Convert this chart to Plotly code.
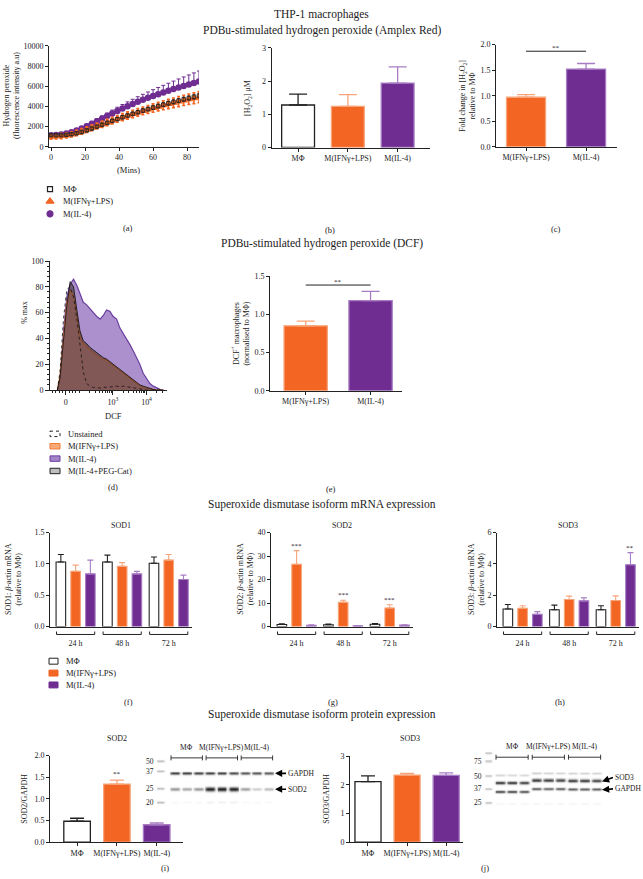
import numpy as np
import plotly.graph_objects as go

W, H = 643, 879
FONT = "Liberation Serif"
INK = "#222222"
ORANGE = "#F26522"
ORANGE_L = "#F7A47A"
PURPLE = "#6F2C91"
PURPLE_L = "#A87CC4"

# ---------------- data ----------------
groups3 = ["MΦ", "M(IFNγ+LPS)", "M(IL-4)"]
groups2 = ["M(IFNγ+LPS)", "M(IL-4)"]

# (a) Amplex Red time course
time_min = [0, 3, 6, 9, 12, 15, 18, 21, 24, 27, 30, 33, 36, 39, 42, 45, 48, 51, 54, 57,
            60, 63, 66, 69, 72, 75, 78, 81, 84, 87]
amplex_il4 = [1150, 1180, 1230, 1320, 1450, 1620, 1820, 2040, 2280, 2530, 2790, 3050, 3310, 3560, 3800,
              4030, 4250, 4460, 4660, 4850, 5040, 5220, 5390, 5560, 5720, 5880, 6030, 6180, 6330, 6470]
amplex_il4_err = [150, 150, 150, 160, 170, 180, 200, 220, 240, 260, 280, 300, 330, 360, 390,
                  420, 460, 500, 540, 580, 620, 660, 700, 740, 790, 840, 890, 940, 990, 1040]
amplex_ifn = [1000, 1020, 1060, 1130, 1230, 1370, 1530, 1700, 1880, 2060, 2240, 2420, 2600, 2770, 2940,
              3100, 3260, 3410, 3560, 3700, 3840, 3980, 4110, 4240, 4360, 4480, 4600, 4710, 4820, 4920]
amplex_ifn_err = [250, 250, 250, 250, 260, 260, 270, 280, 290, 300, 310, 320, 330, 340, 350,
                  360, 370, 380, 390, 400, 410, 420, 440, 460, 480, 500, 510, 520, 540, 550]
amplex_mphi = [1150, 1150, 1160, 1190, 1250, 1340, 1470, 1630, 1810, 2000, 2190, 2380, 2570, 2750, 2930,
               3100, 3270, 3430, 3590, 3740, 3890, 4040, 4180, 4320, 4450, 4580, 4710, 4830, 4950, 5070]
amplex_mphi_err = [100, 100, 100, 100, 110, 110, 120, 120, 130, 130, 140, 140, 150, 150, 160,
                   160, 170, 170, 180, 180, 190, 190, 200, 200, 210, 210, 220, 220, 230, 230]

# (b) [H2O2] uM
h2o2_um = [1.28, 1.24, 1.94]
h2o2_um_err = [0.33, 0.35, 0.49]
# (c) fold change
h2o2_fold = [0.97, 1.52]
h2o2_fold_err = [0.05, 0.11]

# (d) DCF histograms (display position on biexponential axis, % max)
dcf_pos = [-0.25, -0.17, -0.07, 0.03, 0.13, 0.23, 0.33, 0.42, 0.52, 0.62, 0.72, 0.82, 0.92, 1.02,
           1.12, 1.21, 1.31, 1.41, 1.51, 1.61, 1.71, 1.81, 1.91, 2.01, 2.11, 2.20, 2.30, 2.40,
           2.50, 2.60, 2.70, 2.80, 2.90]
hist_il4 = [0, 8, 45, 72, 82, 86, 81, 74, 68, 66, 63, 60, 57, 55, 58, 62, 61, 57, 55, 48, 44, 40,
            35, 30, 25, 20, 13, 9, 5, 3, 1.5, 0.5, 0]
hist_ifn = [0, 12, 40, 68, 77, 74, 57, 42, 36, 34, 31, 29, 27, 25, 24, 23, 21, 19, 17, 15, 13, 11,
            9, 7, 5, 3.5, 2, 1.5, 0.8, 0.3, 0, 0, 0]
hist_peg = [0, 10, 38, 66, 84, 80, 62, 46, 38, 36, 33, 31, 29, 27, 25, 24, 22, 20, 18, 16, 14, 12,
            10, 8, 6, 4, 3, 2, 1, 0.5, 0, 0, 0]
hist_unst = [0, 15, 55, 78, 80, 72, 55, 35, 14, 5, 3, 2, 1.5, 1.5, 2, 2, 2.5, 2.5, 3, 2.5, 3, 2.5,
             2, 1.5, 1, 0.5, 0, 0, 0, 0, 0, 0, 0]
dcf_tickvals = [0, 1.4, 2.4]
dcf_ticktext = ["0", "10<sup>3</sup>", "10<sup>4</sup>"]

# (e) DCF+ macrophages
dcf_pos_frac = [0.85, 1.18]
dcf_pos_frac_err = [0.06, 0.12]

# (f)-(h) SOD mRNA
sod_times = ["24 h", "48 h", "72 h"]
sod1 = {"MΦ": ([1.03, 1.03, 1.01], [0.12, 0.11, 0.10]),
        "M(IFNγ+LPS)": ([0.88, 0.96, 1.06], [0.10, 0.06, 0.09]),
        "M(IL-4)": ([0.84, 0.84, 0.75], [0.22, 0.04, 0.07])}
sod2 = {"MΦ": ([0.9, 0.8, 1.0], [0.3, 0.3, 0.3]),
        "M(IFNγ+LPS)": ([26.5, 10.3, 7.9], [5.8, 0.9, 1.4]),
        "M(IL-4)": ([0.5, 0.3, 0.6], [0.2, 0.1, 0.2])}
sod3 = {"MΦ": ([1.12, 1.07, 1.07], [0.29, 0.30, 0.26]),
        "M(IFNγ+LPS)": ([1.16, 1.73, 1.66], [0.17, 0.21, 0.30]),
        "M(IL-4)": ([0.78, 1.64, 3.94], [0.17, 0.19, 0.78])}

# (i),(j) protein
sod2_gapdh = [0.48, 1.34, 0.40]
sod2_gapdh_err = [0.07, 0.09, 0.04]
sod3_gapdh = [2.11, 2.34, 2.33]
sod3_gapdh_err = [0.20, 0.06, 0.09]

# western blot band intensities (9 lanes: 3 per group)
blot_i_gapdh = [0.85, 0.85, 0.85, 0.85, 0.85, 0.80, 0.75, 0.75, 0.72]
blot_i_sod2 = [0.45, 0.38, 0.45, 0.95, 0.95, 0.95, 0.42, 0.22, 0.30]
blot_i_ladder = ["50", "37", "25", "20"]
blot_j_sod3 = [0.90, 0.90, 0.85, 0.90, 0.88, 0.85, 0.90, 0.90, 0.85]
blot_j_gapdh = [0.85, 0.85, 0.80, 0.75, 0.70, 0.75, 0.75, 0.75, 0.75]
blot_j_upper = [0.22, 0.20, 0.20, 0.25, 0.22, 0.22, 0.22, 0.22, 0.22]
blot_j_ladder = ["", "75", "50", "37", "25"]

# ---------------- layout geometry (pixels) ----------------
P = {
    1: dict(x=(49, 199), y=(144.3, 42.3), xr=[-1.2, 87], yr=[0, 10000]),
    2: dict(x=(271.7, 430), y=(145, 44.3), xr=[-0.53, 2.65], yr=[0, 3]),
    3: dict(x=(496, 616.7), y=(144.3, 41), xr=[-0.5, 1.51], yr=[0, 2]),
    4: dict(x=(50, 166.7), y=(390, 259.7), xr=[-0.47, 3.0], yr=[0, 100]),
    5: dict(x=(270, 401.7), y=(390.7, 275), xr=[-0.55, 1.48], yr=[0, 1.5]),
    6: dict(x=(50, 192), y=(629, 534), xr=[-0.55, 2.5], yr=[0, 1.5]),
    7: dict(x=(271, 413), y=(629, 534), xr=[-0.55, 2.5], yr=[0, 40]),
    8: dict(x=(497, 639), y=(629, 534), xr=[-0.55, 2.5], yr=[0, 6]),
    9: dict(x=(50, 183), y=(846.7, 759.3), xr=[-0.68, 2.66], yr=[0, 2]),
    11: dict(x=(350, 463), y=(846.7, 760), xr=[-0.46, 2.43], yr=[0, 3]),
}
LANE_I0, LANE_I = 175, 11.7
LANE_J0, LANE_J = 500, 12.08
P[10] = dict(x=(155, 276), y=(812, 756), xr=[(155 - LANE_I0) / LANE_I, (276 - LANE_I0) / LANE_I], yr=[812, 756])
P[12] = dict(x=(478, 603), y=(812, 750), xr=[(478 - LANE_J0) / LANE_J, (603 - LANE_J0) / LANE_J], yr=[812, 750])


def PX(x):
    return x / W


def PY(y):
    return 1 - y / H


def cat2px(n, v):
    p = P[n]
    return p['x'][0] + (v - p['xr'][0]) / (p['xr'][1] - p['xr'][0]) * (p['x'][1] - p['x'][0])


def val2py(n, v):
    p = P[n]
    return p['y'][0] + (v - p['yr'][0]) / (p['yr'][1] - p['yr'][0]) * (p['y'][1] - p['y'][0])


layout = dict(width=W, height=H, margin=dict(l=0, r=0, t=0, b=0), paper_bgcolor='white',
              plot_bgcolor='rgba(0,0,0,0)', font=dict(family=FONT, size=8, color=INK),
              showlegend=False, barmode='group', bargap=0.05, bargroupgap=0.35)


def set_axes(n, xkw=None, ykw=None, visible=True):
    s = '' if n == 1 else str(n)
    p = P[n]
    base = dict(showline=True, linecolor=INK, linewidth=1, ticks='outside', ticklen=3, tickwidth=1,
                tickcolor=INK, showgrid=False, zeroline=False, fixedrange=True,
                tickfont=dict(family=FONT, size=8, color=INK))
    if not visible:
        base = dict(visible=False, showgrid=False, zeroline=False, fixedrange=True)
    xa = dict(base, domain=[PX(p['x'][0]), PX(p['x'][1])], range=p['xr'], anchor='y' + s)
    ya = dict(base, domain=[PY(p['y'][0]), PY(p['y'][1])], range=p['yr'], anchor='x' + s)
    xa.update(xkw or {})
    ya.update(ykw or {})
    layout['xaxis' + s] = xa
    layout['yaxis' + s] = ya


def cat(arr):
    return dict(type='category', categoryorder='array', categoryarray=arr, tickangle=0)


set_axes(1, dict(tickvals=[0, 20, 40, 60, 80]), dict(dtick=2000, tickformat='d'))
set_axes(2, cat(groups3), dict(dtick=1))
set_axes(3, cat(groups2), dict(dtick=0.5, tickformat='.1f'))
set_axes(4, dict(tickmode='array', tickvals=dcf_tickvals, ticktext=dcf_ticktext, ticklen=4,
                 minor=dict(tickmode='array', ticks='outside', ticklen=2, tickcolor=INK,
                            tickvals=[-0.4, -0.3, -0.2, -0.1, 0.1, 0.2, 0.3] +
                                     [0.4 + np.log10(k) for k in range(1, 10)] +
                                     [1.4 + np.log10(k) for k in range(2, 10)] +
                                     [2.4 + np.log10(k) for k in range(2, 5)])),
         dict(dtick=20, ticklen=4, minor=dict(dtick=4, ticks='outside', ticklen=2, tickcolor=INK)))
set_axes(5, cat(groups2), dict(dtick=0.5, tickformat='.1f'))
sodx = dict(cat(sod_times), ticks='', ticklabelstandoff=9)
set_axes(6, sodx, dict(dtick=0.5, tickformat='.1f'))
set_axes(7, sodx, dict(dtick=10))
set_axes(8, sodx, dict(dtick=2))
set_axes(9, cat(groups3), dict(dtick=0.5, tickformat='.1f'))
set_axes(10, visible=False)
set_axes(11, cat(groups3), dict(dtick=1))
set_axes(12, visible=False)
layout['xaxis13'] = dict(domain=[0, 1], range=[0, W], visible=False, anchor='y13', fixedrange=True)
layout['yaxis13'] = dict(domain=[0, 1], range=[H, 0], visible=False, anchor='x13', fixedrange=True)

fig = go.Figure()

# ---------------- (a) ----------------
zeros = [0] * len(time_min)
fig.add_trace(go.Scatter(x=time_min, y=amplex_il4, mode='markers', xaxis='x', yaxis='y',
                         marker=dict(symbol='circle', size=6.5, color=PURPLE),
                         error_y=dict(type='data', symmetric=False, array=amplex_il4_err, arrayminus=zeros,
                                      color=PURPLE, thickness=1, width=2), hoverinfo='skip'))
fig.add_trace(go.Scatter(x=time_min, y=amplex_ifn, mode='markers', xaxis='x', yaxis='y',
                         marker=dict(symbol='triangle-up', size=8, color=ORANGE),
                         error_y=dict(type='data', array=amplex_ifn_err, color=ORANGE, thickness=1.6, width=1.5),
                         hoverinfo='skip'))
fig.add_trace(go.Scatter(x=time_min, y=amplex_mphi, mode='markers', xaxis='x', yaxis='y',
                         marker=dict(symbol='square-open', size=3.5, color=INK, line=dict(width=0.9)),
                         error_y=dict(type='data', array=amplex_mphi_err, color=INK, thickness=0.7, width=1.5),
                         hoverinfo='skip'))

# ---------------- single-series bar helper ----------------
STY = {"MΦ": ('white', INK, INK), "M(IFNγ+LPS)": (ORANGE, ORANGE_L, ORANGE_L), "M(IL-4)": (PURPLE, PURPLE_L, PURPLE_L)}


def bars(n, cats, vals, errs, width, capw=8):
    s = str(n)
    for c, v, e in zip(cats, vals, errs):
        fc, lc, ec = STY[c]
        fig.add_trace(go.Bar(x=[c], y=[v], width=width, offset=-width / 2, xaxis='x' + s, yaxis='y' + s,
                             marker=dict(color=fc, line=dict(color=lc, width=1.3)),
                             error_y=dict(type='data', symmetric=False, array=[e], arrayminus=[0],
                                          color=ec, thickness=1.3, width=capw), hoverinfo='skip'))


bars(2, groups3, h2o2_um, h2o2_um_err, 0.66, 9)
bars(3, groups2, h2o2_fold, h2o2_fold_err, 0.65, 9)
bars(5, groups2, dcf_pos_frac, dcf_pos_frac_err, 0.667, 9)
bars(9, groups3, sod2_gapdh, sod2_gapdh_err, 0.667, 7)
bars(11, groups3, sod3_gapdh, sod3_gapdh_err, 0.667, 7)

# ---------------- (d) histograms ----------------
fig.add_trace(go.Scatter(x=dcf_pos, y=hist_il4, mode='lines', xaxis='x4', yaxis='y4', fill='tozeroy',
                         fillcolor='rgba(163,132,200,0.9)', line=dict(color='#6B3FA0', width=1.2), hoverinfo='skip'))
fig.add_trace(go.Scatter(x=dcf_pos, y=hist_ifn, mode='lines', xaxis='x4', yaxis='y4', fill='tozeroy',
                         fillcolor='rgba(245,150,90,0.55)', line=dict(color='#F07A35', width=1.2), hoverinfo='skip'))
fig.add_trace(go.Scatter(x=dcf_pos, y=hist_peg, mode='lines', xaxis='x4', yaxis='y4', fill='tozeroy',
                         fillcolor='rgba(60,40,40,0.55)', line=dict(color='#1a1a1a', width=0.9), hoverinfo='skip'))
fig.add_trace(go.Scatter(x=dcf_pos, y=hist_unst, mode='lines', xaxis='x4', yaxis='y4',
                         line=dict(color='#111111', width=0.8, dash='dot'), hoverinfo='skip'))

# ---------------- (f)-(h) grouped bars ----------------
for n, d in ((6, sod1), (7, sod2), (8, sod3)):
    for c in groups3:
        fc, lc, ec = STY[c]
        v, e = d[c]
        fig.add_trace(go.Bar(x=sod_times, y=v, name=c, xaxis='x%d' % n, yaxis='y%d' % n,
                             marker=dict(color=fc, line=dict(color=lc, width=1.1)),
                             error_y=dict(type='data', symmetric=False, array=e, arrayminus=[0] * 3,
                                          color=ec, thickness=1.1, width=3), hoverinfo='skip'))

# ---------------- western blots (heatmaps) ----------------


def blot_z(n, bands, nx=150, ny=120):
    p = P[n]
    xg = np.linspace(p['xr'][0], p['xr'][1], nx)
    yg = np.linspace(p['yr'][1], p['yr'][0], ny)
    Z = np.zeros((ny, nx))
    for lane, yc, hw, hh, val in bands:
        Z += val * np.outer(np.exp(-((yg - yc) / hh) ** 2), np.exp(-((xg - lane) / hw) ** 6))
    return xg, yg, np.clip(Z, 0, 1)


bands_i = []
for k, y in zip(blot_i_ladder, [765, 775, 792.7, 806.7]):
    bands_i.append((-1.25, y, 0.32, 0.9, 0.32))
for l in range(9):
    bands_i.append((l, 777.3, 0.42, 1.3, blot_i_gapdh[l]))
    bands_i.append((l, 793.3, 0.42, 0.9 + 1.1 * blot_i_sod2[l], blot_i_sod2[l]))
    bands_i.append((l, 806.5, 0.35, 0.8, 0.07 if 3 <= l <= 5 else 0.03))
xg, yg, Z = blot_z(10, bands_i)
fig.add_trace(go.Heatmap(x=xg, y=yg, z=Z, xaxis='x10', yaxis='y10', colorscale=[[0, 'white'], [1, '#111111']],
                         zmin=0, zmax=1, showscale=False, zsmooth='best', hoverinfo='skip'))

bands_j = []
for k, y in zip(blot_j_ladder, [756.7, 765, 780, 793, 807]):
    bands_j.append((-0.97, y, 0.32, 0.9, 0.3))
sod3_rows = [786.7] * 3 + [784.2] * 3 + [784.6] * 3
gapdh_rows = [796.0] * 3 + [793.0] * 3 + [793.4] * 3
upper_rows = [779.3] * 3 + [777.2] * 3 + [777.4] * 3
for l in range(9):
    bands_j.append((l, upper_rows[l], 0.42, 0.9, blot_j_upper[l]))
    bands_j.append((l, sod3_rows[l], 0.42, 1.4, blot_j_sod3[l]))
    bands_j.append((l, gapdh_rows[l], 0.42, 1.2, blot_j_gapdh[l]))
    bands_j.append((l, 808, 0.35, 0.8, 0.05))
xg, yg, Z = blot_z(12, bands_j)
fig.add_trace(go.Heatmap(x=xg, y=yg, z=Z, xaxis='x12', yaxis='y12', colorscale=[[0, 'white'], [1, '#111111']],
                         zmin=0, zmax=1, showscale=False, zsmooth='best', hoverinfo='skip'))

# ---------------- canvas: legends, brackets, text ----------------
annos = []
shapes = []


def text(x, y, s, size=8, anchor='center', angle=0):
    annos.append(dict(x=x, y=y, xref='x13', yref='y13', text=s, showarrow=False, xanchor=anchor,
                      yanchor='middle', textangle=angle, font=dict(family=FONT, size=size, color=INK)))


def line(x0, y0, x1, y1, color=INK, width=1):
    shapes.append(dict(type='line', xref='x13', yref='y13', x0=x0, y0=y0, x1=x1, y1=y1,
                       line=dict(color=color, width=width)))


def rect_icon(cx, cy, w, h, fill, lc, dash='solid'):
    xs = [cx - w / 2, cx + w / 2, cx + w / 2, cx - w / 2, cx - w / 2]
    ys = [cy - h / 2, cy - h / 2, cy + h / 2, cy + h / 2, cy - h / 2]
    fig.add_trace(go.Scatter(x=xs, y=ys, mode='lines', fill='toself', fillcolor=fill, xaxis='x13', yaxis='y13',
                             line=dict(color=lc, width=1, dash=dash), hoverinfo='skip'))


# legend (a)
leg_a = [("MΦ", 'square-open', INK, 5), ("M(IFNγ+LPS)", 'triangle-up', ORANGE, 7), ("M(IL-4)", 'circle', PURPLE, 6)]
for i, (nm, sym, col, sz) in enumerate(leg_a):
    yy = 187 + 12.5 * i
    fig.add_trace(go.Scatter(x=[50], y=[yy], mode='markers', xaxis='x13', yaxis='y13',
                             marker=dict(symbol=sym, size=sz, color=col, line=dict(width=1.2, color=col)),
                             hoverinfo='skip'))
    text(61, yy, nm, 8.5, 'left')

# legend (d)
leg_d = [("Unstained", 'rgba(255,255,255,1)', INK, 'dot'),
         ("M(IFNγ+LPS)", 'rgba(247,170,120,1)', '#F07A35', 'solid'),
         ("M(IL-4)", 'rgba(163,132,200,1)', '#6B3FA0', 'solid'),
         ("M(IL-4+PEG-Cat)", 'rgba(190,190,190,1)', INK, 'solid')]
for i, (nm, fc, lc, ds) in enumerate(leg_d):
    yy = 434.3 + 12.5 * i
    rect_icon(55, yy, 10, 5.5, fc, lc, ds)
    text(66, yy, nm, 8.5, 'left')

# legend (f)
for i, nm in enumerate(groups3):
    yy = 664 + 12 * i
    fc, lc, ec = STY[nm]
    rect_icon(53.5, yy, 9, 6, fc, INK if nm == "MΦ" else fc)
    text(64, yy, nm, 8.5, 'left')

# significance brackets
for n, y in ((3, 1.87), (5, 1.384)):
    yp = val2py(n, y)
    line(cat2px(n, 0), yp, cat2px(n, 1), yp, width=1)
    text(cat2px(n, 0.5), yp - 3.5, "**", 7)

# SOD group brackets under x axis
for n in (6, 7, 8):
    for g in range(3):
        x0, x1 = cat2px(n, g - 0.41), cat2px(n, g + 0.41)
        line(x0, 637, x1, 637)
        line(x0, 637, x0, 634)
        line(x1, 637, x1, 634)
slot = (1 - 0.05) / 3
for g in range(3):
    v = sod2["M(IFNγ+LPS)"][0][g] + sod2["M(IFNγ+LPS)"][1][g]
    text(cat2px(7, g), val2py(7, v) - 5, "***", 7)
v = sod3["M(IL-4)"][0][2] + sod3["M(IL-4)"][1][2]
text(cat2px(8, 2 + slot), val2py(8, v) - 5, "**", 7)
v = sod2_gapdh[1] + sod2_gapdh_err[1]
text(cat2px(9, 1), val2py(9, v) - 6, "**", 7)


# blot annotations
def lane_px_i(l):
    return LANE_I0 + LANE_I * l


def lane_px_j(l):
    return LANE_J0 + LANE_J * l


for g, nm in enumerate(groups3):
    for lp, yb, yt in ((lane_px_i, 761.7, 751), (lane_px_j, 761, 750)):
        x0, x1 = lp(3 * g) - 4, lp(3 * g + 2) + 4
        line(x0, yb, x1, yb, width=0.9)
        line(x0, yb - 2.5, x0, yb + 2.5, width=0.9)
        line(x1, yb - 2.5, x1, yb + 2.5, width=0.9)
        text((x0 + x1) / 2, yt, nm, 7.5)
for k, y in zip(blot_i_ladder, [765, 775, 792.7, 806.7]):
    text(156, y, k, 7.5, 'right')
for k, y in zip(blot_j_ladder, [756.7, 765, 780, 793, 807]):
    if k:
        text(484, y, k, 7.5, 'right')


def arrow(xh, yh, label, ty):
    annos.append(dict(x=xh, y=yh, xref='x13', yref='y13', ax=xh + 11, ay=ty, axref='x13', ayref='y13',
                      text=label, showarrow=True, arrowhead=2, arrowsize=0.9, arrowwidth=1.6, arrowcolor='black',
                      xanchor='left', yanchor='middle', font=dict(family=FONT, size=7.5, color=INK)))


arrow(275, 777.3, "GAPDH", 777.3)
arrow(275, 793.3, "SOD2", 793.3)
arrow(602, 785.5, "SOD3", 781.5)
arrow(602, 794, "GAPDH", 793)

# titles & labels
T = 11.5
text(321.5, 11, "THP-1 macrophages", T)
text(321.5, 27, "PDBu-stimulated hydrogen peroxide (Amplex Red)", T)
text(321.5, 242, "PDBu-stimulated hydrogen peroxide (DCF)", T)
text(321.5, 506, "Superoxide dismutase isoform mRNA expression", T)
text(321.5, 718, "Superoxide dismutase isoform protein expression", T)

text(11, 93, "Hydrogen peroxide<br>(fluorescence intensity a.u)", 8, angle=-90)
text(128, 168, "(Mins)", 8.5)
text(248, 95, "[H<sub>2</sub>O<sub>2</sub>] μM", 8, angle=-90)
text(467, 93, "Fold change in [H<sub>2</sub>O<sub>2</sub>]<br>relative to MΦ", 8, angle=-90)
text(25, 312, "% max", 8, angle=-90)
text(113, 416.7, "DCF", 8.5)
text(241, 333, "DCF<sup>+</sup> macrophages<br>(normalised to MΦ)", 8, angle=-90)
for xc, s in ((13, "SOD1"), (244.7, "SOD2"), (476, "SOD3")):
    text(xc, 581, s + ": <i>β</i>-actin mRNA<br>(relative to MΦ)", 8, angle=-90)
for n, s in ((6, "SOD1"), (7, "SOD2"), (8, "SOD3")):
    text((P[n]['x'][0] + P[n]['x'][1]) / 2, 527, s, 8)
text(117, 742, "SOD2", 8)
text(410, 742, "SOD3", 8)
text(25, 803, "SOD2/GAPDH", 8, angle=-90)
text(327, 803, "SOD3/GAPDH", 8, angle=-90)

for x, y, s in ((128, 226, "(a)"), (330, 228, "(b)"), (556, 227, "(c)"), (113, 488, "(d)"), (331, 490, "(e)"),
                (128, 705, "(f)"), (333, 705, "(g)"), (560, 705, "(h)"), (165, 873, "(i)"), (485, 873, "(j)")):
    text(x, y, s, 8.5)

layout['annotations'] = annos
layout['shapes'] = shapes
fig.update_layout(**layout)
fig.write_html("out.html", config={'displayModeBar': False},
               post_script="document.body.style.margin='0px';")
